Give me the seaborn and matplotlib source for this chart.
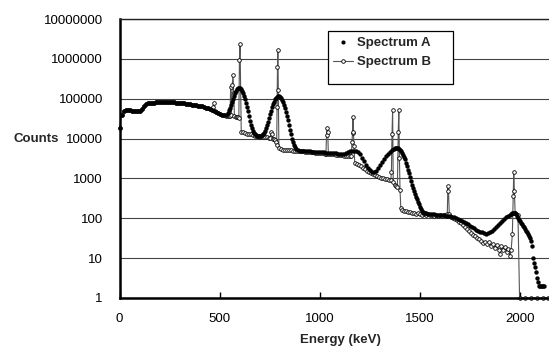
import matplotlib
matplotlib.use('Agg')
import matplotlib.pyplot as plt
import seaborn as sns
from matplotlib.lines import Line2D
from matplotlib.patches import Rectangle
from matplotlib.ticker import FixedLocator, FixedFormatter, NullLocator

sns.set_theme(style="white")
plt.rcParams['font.family'] = ['Liberation Sans', 'DejaVu Sans']

# Spectrum A: energy grid (keV), finer steps around the broad peaks
energy_a = (list(range(0, 550, 10)) + list(range(545, 885, 5))
            + list(range(890, 1380, 10)) + list(range(1375, 1535, 5))
            + list(range(1540, 1960, 10)) + list(range(1955, 2125, 5)))

counts_a = [
    # 0 - 540
    18000, 40000, 50000, 52000, 53000, 51000, 50000, 50000, 49000, 49000,
    50000, 56000, 65000, 73000, 77000, 78000, 79000, 80000, 81000, 82000,
    83000, 84000, 84000, 84000, 84000, 83000, 82000, 81000, 80000, 79000,
    78000, 77000, 76000, 75000, 73000, 72000, 71000, 70000, 68000, 67000,
    66000, 64000, 62000, 60000, 58000, 56000, 53000, 50000, 46000, 43000,
    41000, 39000, 38500, 39000, 44000,
    # 545 - 880
    50800, 58200, 68400, 81700, 98000, 116500, 136000, 155000, 172000, 183000, 187000,
    182000, 171000, 156000, 139000, 119000, 98700, 79400, 62100, 47800, 36500,
    28100, 22100, 18100, 15450, 13800, 12700, 12200, 11850, 11600, 11550,
    11600, 11800, 12150, 12750, 13800, 15400, 17900, 21500, 26400, 32700,
    40700, 50300, 61200, 72800, 84600, 95600, 104800, 111400, 114300, 113900,
    110000, 102900, 93300, 82100, 70100, 58200, 46900, 37000, 28600, 21800,
    16600, 12700, 9900, 8060, 6800, 6030, 5560,
    # 890 - 1370
    5150,
    4950, 4900, 4870, 4840, 4800, 4770, 4730, 4700, 4660, 4620,
    4580, 4540, 4500, 4460, 4420, 4380, 4330, 4280, 4230, 4180,
    4150, 4150, 4200, 4350, 4550, 4750, 4880, 4900, 4780, 4500,
    4000, 3300, 2700, 2200, 1850, 1620, 1480, 1450, 1550, 1800,
    2150, 2550, 3000, 3600, 4200, 4700, 5200, 5550,
    # 1375 - 1530
    5680, 5750, 5720, 5650, 5480,
    5250, 4800, 4300, 3800, 3400, 3000, 2500, 2000, 1650, 1350,
    1100, 870, 700, 570, 480, 410, 350, 300, 260, 225,
    195, 170, 155, 145, 138, 134, 132,
    # 1540 - 1950
    130, 128, 127, 125, 123, 122,
    120, 118, 119, 116, 116, 112, 108, 105, 100, 95,
    90, 85, 80, 74, 70, 64, 60, 56, 52, 48,
    46, 44, 42, 41, 42, 44, 48, 53, 59, 67,
    75, 85, 95, 105, 113, 122,
    # 1955 - 2120
    127, 132, 135, 137, 136, 128, 112, 100, 93,
    86, 78, 71, 64, 59, 54, 49, 45, 41, 36,
    32, 27, 20, 10, 7.5, 6, 4.5, 3.2, 2.5, 2,
    2, 2, 2, 2, 2,
]

# Spectrum B: line spectrum with sharp peaks
energy_b = [
    0, 10, 20, 30, 40, 50, 60, 70, 80, 90,
    100, 110, 120, 130, 140, 150, 160, 170, 180, 190,
    200, 210, 220, 230, 240, 250, 260, 270, 280, 290,
    300, 310, 320, 330, 340, 350, 360, 370, 380, 390,
    400, 410, 420, 430, 440, 450, 460, 468, 472, 476,
    480, 490, 500, 510, 520, 530, 540, 548, 552, 555,
    559, 563, 567, 570, 574, 580, 585, 590, 596, 599,
    602, 608, 615, 625, 635, 645, 655, 665, 675, 685,
    695, 705, 715, 725, 735, 745, 752, 757, 761, 766,
    771, 776, 781, 785, 787, 789, 791, 793, 796, 805,
    815, 825, 835, 845, 855, 865, 875, 885, 895, 905,
    915, 925, 935, 945, 955, 965, 975, 985, 995, 1005,
    1015, 1025, 1031, 1034, 1037, 1040, 1043, 1050, 1060, 1070,
    1080, 1090, 1100, 1110, 1120, 1130, 1140, 1150, 1158, 1161,
    1164, 1166, 1168, 1171, 1175, 1185, 1195, 1205, 1215, 1225,
    1235, 1245, 1255, 1265, 1275, 1285, 1295, 1305, 1315, 1325,
    1335, 1345, 1355, 1358, 1361, 1364, 1367, 1375, 1382, 1388,
    1392, 1395, 1398, 1401, 1405, 1412, 1420, 1430, 1440, 1450,
    1460, 1470, 1480, 1490, 1500, 1510, 1520, 1530, 1540, 1550,
    1560, 1570, 1580, 1590, 1600, 1610, 1620, 1630, 1637, 1640,
    1643, 1647, 1655, 1665, 1675, 1685, 1695, 1705, 1715, 1725,
    1735, 1745, 1755, 1765, 1775, 1785, 1795, 1805, 1815, 1825,
    1835, 1845, 1855, 1865, 1875, 1885, 1895, 1902, 1907, 1915,
    1925, 1935, 1942, 1950, 1956, 1962, 1966, 1969, 1972, 1976,
    1990, 1998, 2025, 2055, 2085, 2115, 2140,
]

counts_b = [
    18000, 40000, 50000, 52000, 53000, 51000, 50000, 50000, 49000, 49000,
    50000, 56000, 65000, 73000, 77000, 78000, 79000, 80000, 81000, 82000,
    83000, 84000, 84000, 84000, 84000, 83000, 82000, 81000, 80000, 79000,
    78000, 77000, 76000, 75000, 73000, 72000, 71000, 70000, 68000, 67000,
    66000, 64000, 62000, 60000, 58000, 56000, 52000, 63000, 77000, 49000,
    46000, 43000, 41000, 39000, 38000, 37000, 36500, 36000, 36000, 195000,
    40000, 220000, 395000, 137000, 36000, 35000, 34500, 34000, 33000, 930000,
    2300000, 14800, 14300, 13800, 13300, 13000, 12700, 12300, 11900, 11500,
    11200, 11000, 10900, 10800, 10700, 10500, 10400, 14800, 13000, 10000,
    9500, 9000, 8000, 6900, 62000, 630000, 1650000, 165000, 5800, 5500,
    5300, 5200, 5150, 5100, 5050, 5000, 4950, 4900, 4850, 4800,
    4750, 4700, 4650, 4600, 4550, 4500, 4450, 4400, 4350, 4300,
    4250, 4200, 4200, 12300, 18800, 14800, 4100, 4100, 4050, 4000,
    3950, 3900, 3850, 3800, 3750, 3700, 3650, 3600, 3550, 8400,
    13600, 35000, 14400, 6600, 2450, 2300, 2150, 2000, 1850, 1700,
    1580, 1480, 1380, 1300, 1220, 1150, 1100, 1050, 1010, 980,
    950, 930, 910, 1480, 12700, 52000, 830, 700, 650, 600,
    14800, 52000, 3200, 510, 178, 165, 155, 150, 145, 140,
    136, 133, 128, 134, 130, 124, 129, 121, 127, 119,
    124, 117, 121, 114, 118, 111, 119, 122, 125, 640,
    490, 130, 110, 104, 98, 88, 82, 74, 69, 60,
    54, 49, 43, 39, 35, 32, 30, 27, 24, 26,
    22, 25, 20, 23, 18, 21, 16, 13, 20, 16,
    19, 14, 17, 11, 16, 40, 360, 1480, 470, 135,
    120, 1, 1, 1, 1, 1, 1,
]

y_ticks = [1, 10, 100, 1000, 10000, 100000, 1000000, 10000000]
y_labels = ['1', '10', '100', '1000', '10000', '100000', '1000000', '10000000']
x_ticks = [0, 500, 1000, 1500, 2000]

fig = plt.figure(figsize=(5.49, 3.47), dpi=100)
ax = fig.add_axes([119.5 / 549, 49 / 347, 429.5 / 549, 279 / 347])

sns.lineplot(x=energy_b, y=counts_b, ax=ax, color='#555555', lw=0.8,
             marker='o', markersize=2.6, markerfacecolor='white',
             markeredgecolor='black', markeredgewidth=0.6,
             estimator=None, sort=False, legend=False, clip_on=False, zorder=2)
sns.scatterplot(x=energy_a, y=counts_a, ax=ax, color='black', s=10,
                linewidth=0, legend=False, clip_on=False, zorder=3)

ax.set_yscale('log')
ax.set_ylim(1, 1e7)
ax.set_xlim(0, 2145)

ax.yaxis.set_major_locator(FixedLocator(y_ticks))
ax.yaxis.set_major_formatter(FixedFormatter(y_labels))
ax.yaxis.set_minor_locator(NullLocator())
ax.set_xticks(x_ticks)
ax.set_xticklabels([str(t) for t in x_ticks])

ax.yaxis.grid(True, color='#444444', lw=0.8)
ax.xaxis.grid(False)
ax.set_axisbelow(True)

for side in ['left', 'bottom']:
    ax.spines[side].set_color('black')
    ax.spines[side].set_linewidth(1.8)
ax.spines['top'].set_color('#222222')
ax.spines['top'].set_linewidth(1.0)
ax.spines['right'].set_visible(False)

ax.tick_params(axis='x', direction='in', length=4, width=1, pad=11,
               labelsize=9.5, colors='black', bottom=True)
ax.tick_params(axis='y', length=0, pad=12, labelsize=9.5, colors='black')
ax.set_xlabel('')
ax.set_ylabel('')

fig.text(36 / 549, 1 - 139 / 347, 'Counts', ha='center', va='center',
         fontsize=9.5, fontweight='bold')
fig.text(340 / 549, 1 - 340 / 347, 'Energy (keV)', ha='center', va='center',
         fontsize=9.5, fontweight='bold')

# legend box
ax.add_patch(Rectangle((0.4855, 0.767), 0.291, 0.190, transform=ax.transAxes,
                       facecolor='white', edgecolor='black', lw=0.9,
                       zorder=4, clip_on=False))
handles = [
    Line2D([], [], ls='none', marker='o', ms=2, color='black'),
    Line2D([], [], color='#555555', lw=0.8, marker='o', ms=2.6,
           mfc='white', mec='black', mew=0.6),
]
leg = ax.legend(handles, ['Spectrum A', 'Spectrum B'], loc='upper left',
                bbox_to_anchor=(0.497, 0.935), frameon=False,
                prop={'weight': 'bold', 'size': 9.5}, handlelength=1.5,
                handletextpad=0.3, labelspacing=0.5, borderpad=0,
                borderaxespad=0)
leg.set_zorder(5)

fig.savefig('out.png', dpi=100)
